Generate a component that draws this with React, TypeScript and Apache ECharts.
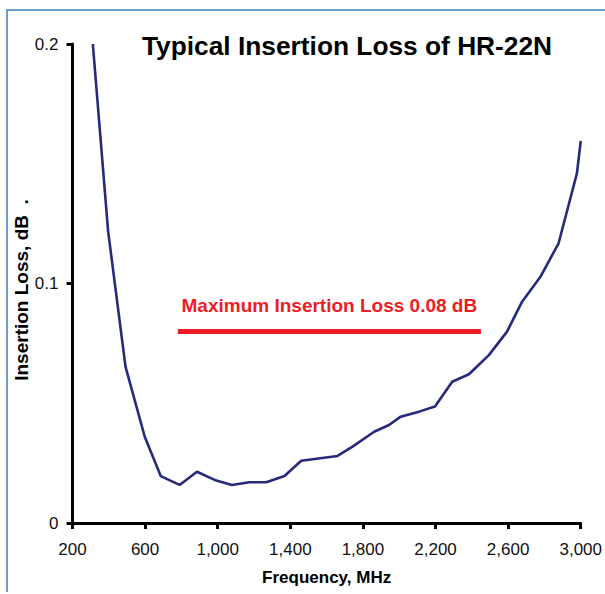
import React, { useEffect, useRef } from "react";
import * as echarts from "echarts";

const freqMHz = [312, 396, 492, 598, 686, 790, 886, 983, 1078, 1175, 1267, 1368, 1460, 1660, 1743, 1862, 1944, 2008, 2109, 2197, 2292, 2384, 2494, 2594, 2677, 2778, 2878, 2979, 3000];
const lossDb = [0.2, 0.122, 0.0653, 0.036, 0.0196, 0.0159, 0.0214, 0.018, 0.0159, 0.017, 0.017, 0.0196, 0.026, 0.028, 0.0319, 0.0381, 0.0409, 0.0444, 0.0465, 0.0486, 0.059, 0.0621, 0.0701, 0.0799, 0.0924, 0.1028, 0.1168, 0.146, 0.1595];
const xTicks = [200, 600, 1000, 1400, 1800, 2200, 2600, 3000];
const maxLoss = 0.08;
const maxLossFrom = 780;
const maxLossTo = 2450;
const titleText = "Typical Insertion Loss of HR-22N";
const maxLabel = "Maximum Insertion Loss 0.08 dB";
const xName = "Frequency, MHz";
const yName = "Insertion Loss, dB  .";

const FONT = "'Liberation Sans', Arial, Helvetica, sans-serif";

export default function App() {
  const ref = useRef<HTMLDivElement>(null);
  useEffect(() => {
    if (!ref.current) return;
    const chart = echarts.init(ref.current, null, { renderer: "svg" });
    const data = freqMHz.map((f, i) => [f, lossDb[i]]);
    chart.setOption({
      animation: false,
      backgroundColor: "#ffffff",
      textStyle: { fontFamily: FONT },
      title: {
        text: titleText,
        left: 142,
        top: 33,
        padding: 0,
        textStyle: { fontSize: 26.3, fontWeight: "bold", color: "#000", fontFamily: FONT },
      },
      grid: { left: 72.5, right: 23, top: 44, bottom: 71, containLabel: false },
      xAxis: {
        type: "value",
        min: 200,
        max: 3000,
        axisLine: { show: true, lineStyle: { color: "#000", width: 3 } },
        axisTick: { show: true, customValues: xTicks, length: 6, lineStyle: { color: "#000", width: 3 } },
        axisLabel: {
          customValues: xTicks,
          fontSize: 17,
          color: "#111",
          margin: 18,
          fontFamily: FONT,
          formatter: (v: number) => v.toLocaleString("en-US"),
        },
        splitLine: { show: false },
        name: xName,
        nameLocation: "middle",
        nameGap: 46,
        nameTextStyle: { fontSize: 17, fontWeight: "bold", color: "#000", fontFamily: FONT },
      },
      yAxis: {
        type: "value",
        min: 0,
        max: 0.2,
        interval: 0.1,
        axisLine: { show: true, lineStyle: { color: "#000", width: 3 } },
        axisTick: { show: true, length: 6, lineStyle: { color: "#000", width: 3 } },
        axisLabel: { fontSize: 17, color: "#111", margin: 14, fontFamily: FONT },
        splitLine: { show: false },
      },
      graphic: [
        {
          type: "polyline",
          shape: { points: [[7, 592], [7, 10], [605, 10]] },
          style: { stroke: "#3f7fc0", lineWidth: 1.5, fill: "none" },
          silent: true,
        },
        {
          type: "text",
          x: 21,
          y: 290,
          rotation: Math.PI / 2,
          style: {
            text: yName,
            fontSize: 19,
            fontWeight: "bold",
            fontFamily: FONT,
            fill: "#000",
            align: "center",
            verticalAlign: "middle",
          },
        },
      ],
      series: [
        {
          type: "line",
          data,
          showSymbol: false,
          symbol: "none",
          clip: true,
          lineStyle: { color: "#27297a", width: 2.6 },
          markLine: {
            silent: true,
            symbol: "none",
            lineStyle: { color: "#ee1c25", width: 5, type: "solid" },
            label: {
              show: true,
              position: "middle",
              distance: 16,
              formatter: maxLabel,
              color: "#ee1c25",
              fontSize: 19,
              fontWeight: "bold",
              fontFamily: FONT,
            },
            data: [[{ coord: [maxLossFrom, maxLoss] }, { coord: [maxLossTo, maxLoss] }]],
          },
        },
      ],
    });
    return () => chart.dispose();
  }, []);
  return (
    <div
      ref={ref}
      style={{ position: "absolute", left: 0, top: 0, width: 605, height: 594 }}
    />
  );
}
